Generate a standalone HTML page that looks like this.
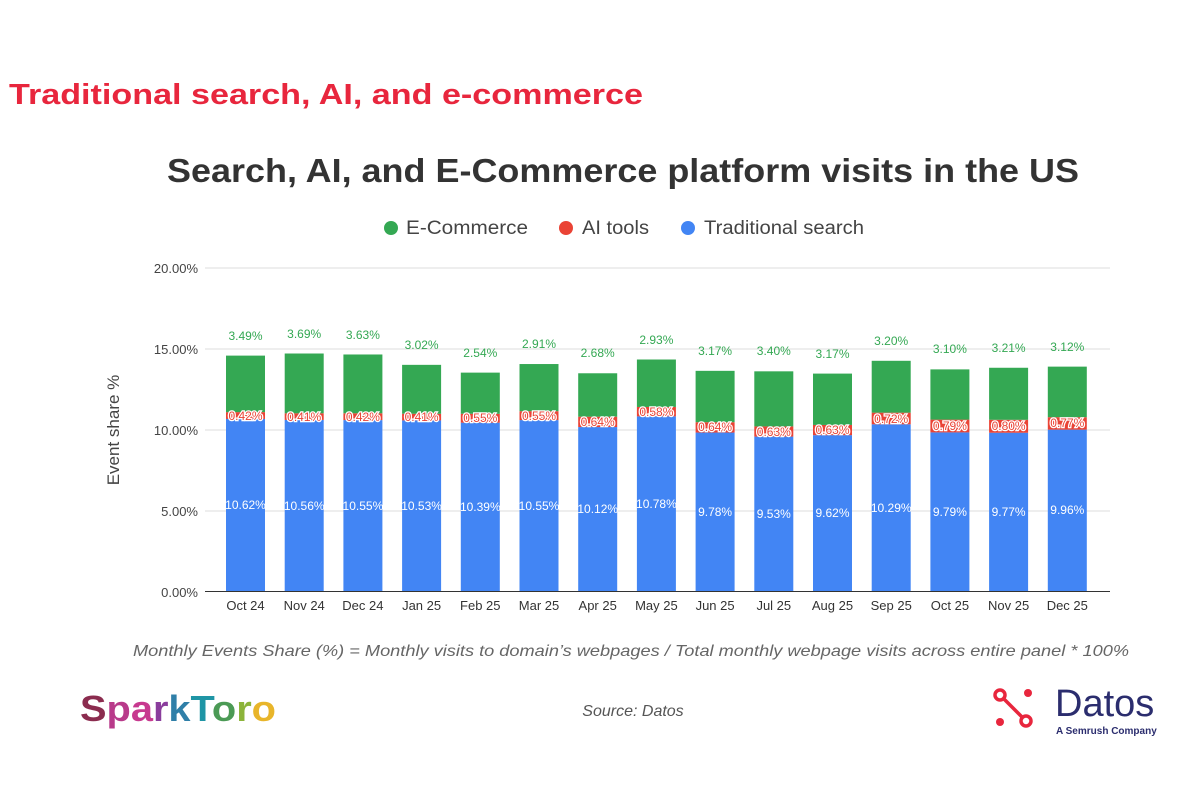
<!DOCTYPE html>
<html><head><meta charset="utf-8"><style>
html,body{margin:0;padding:0;background:#fff;}
svg{display:block;font-family:"Liberation Sans",sans-serif;}
</style></head><body>
<svg width="1200" height="800" viewBox="0 0 1200 800" xmlns="http://www.w3.org/2000/svg">
<text x="9" y="104" font-size="29" font-weight="bold" fill="#e8263d" textLength="634" lengthAdjust="spacingAndGlyphs">Traditional search, AI, and e-commerce</text>
<text x="167" y="182" font-size="33" font-weight="bold" fill="#333" textLength="912" lengthAdjust="spacingAndGlyphs">Search, AI, and E-Commerce platform visits in the US</text>
<g font-size="19" fill="#444">
<circle cx="391" cy="228" r="7" fill="#34a853"/><text x="406" y="234" textLength="122" lengthAdjust="spacingAndGlyphs">E-Commerce</text>
<circle cx="566" cy="228" r="7" fill="#ea4335"/><text x="582" y="234" textLength="67" lengthAdjust="spacingAndGlyphs">AI tools</text>
<circle cx="688" cy="228" r="7" fill="#4285f4"/><text x="704" y="234" textLength="160" lengthAdjust="spacingAndGlyphs">Traditional search</text>
</g>
<g stroke="#ddd" stroke-width="1">
<line x1="205" y1="268" x2="1110" y2="268"/><line x1="205" y1="349" x2="1110" y2="349"/><line x1="205" y1="430" x2="1110" y2="430"/><line x1="205" y1="511" x2="1110" y2="511"/>
</g>
<g font-size="13" fill="#444" text-anchor="end">
<text x="198" y="273">20.00%</text><text x="198" y="354">15.00%</text><text x="198" y="435">10.00%</text><text x="198" y="516">5.00%</text><text x="198" y="597">0.00%</text>
</g>
<text transform="translate(119,430) rotate(-90)" font-size="17" fill="#444" text-anchor="middle">Event share %</text>
<g>
<g transform="translate(245.5,591) scale(1,-16.2)"><rect x="-19.5" y="0" width="39" height="10.62" fill="#4285f4"/><rect x="-19.5" y="10.62" width="39" height="0.42" fill="#ea4335"/><rect x="-19.5" y="11.04" width="39" height="3.49" fill="#34a853"/></g>
<g transform="translate(304.2,591) scale(1,-16.2)"><rect x="-19.5" y="0" width="39" height="10.56" fill="#4285f4"/><rect x="-19.5" y="10.56" width="39" height="0.41" fill="#ea4335"/><rect x="-19.5" y="10.97" width="39" height="3.69" fill="#34a853"/></g>
<g transform="translate(362.9,591) scale(1,-16.2)"><rect x="-19.5" y="0" width="39" height="10.55" fill="#4285f4"/><rect x="-19.5" y="10.55" width="39" height="0.42" fill="#ea4335"/><rect x="-19.5" y="10.97" width="39" height="3.63" fill="#34a853"/></g>
<g transform="translate(421.6,591) scale(1,-16.2)"><rect x="-19.5" y="0" width="39" height="10.53" fill="#4285f4"/><rect x="-19.5" y="10.53" width="39" height="0.41" fill="#ea4335"/><rect x="-19.5" y="10.94" width="39" height="3.02" fill="#34a853"/></g>
<g transform="translate(480.3,591) scale(1,-16.2)"><rect x="-19.5" y="0" width="39" height="10.39" fill="#4285f4"/><rect x="-19.5" y="10.39" width="39" height="0.55" fill="#ea4335"/><rect x="-19.5" y="10.94" width="39" height="2.54" fill="#34a853"/></g>
<g transform="translate(539,591) scale(1,-16.2)"><rect x="-19.5" y="0" width="39" height="10.55" fill="#4285f4"/><rect x="-19.5" y="10.55" width="39" height="0.55" fill="#ea4335"/><rect x="-19.5" y="11.10" width="39" height="2.91" fill="#34a853"/></g>
<g transform="translate(597.7,591) scale(1,-16.2)"><rect x="-19.5" y="0" width="39" height="10.12" fill="#4285f4"/><rect x="-19.5" y="10.12" width="39" height="0.64" fill="#ea4335"/><rect x="-19.5" y="10.76" width="39" height="2.68" fill="#34a853"/></g>
<g transform="translate(656.4,591) scale(1,-16.2)"><rect x="-19.5" y="0" width="39" height="10.78" fill="#4285f4"/><rect x="-19.5" y="10.78" width="39" height="0.58" fill="#ea4335"/><rect x="-19.5" y="11.36" width="39" height="2.93" fill="#34a853"/></g>
<g transform="translate(715.1,591) scale(1,-16.2)"><rect x="-19.5" y="0" width="39" height="9.78" fill="#4285f4"/><rect x="-19.5" y="9.78" width="39" height="0.64" fill="#ea4335"/><rect x="-19.5" y="10.42" width="39" height="3.17" fill="#34a853"/></g>
<g transform="translate(773.8,591) scale(1,-16.2)"><rect x="-19.5" y="0" width="39" height="9.53" fill="#4285f4"/><rect x="-19.5" y="9.53" width="39" height="0.63" fill="#ea4335"/><rect x="-19.5" y="10.16" width="39" height="3.40" fill="#34a853"/></g>
<g transform="translate(832.5,591) scale(1,-16.2)"><rect x="-19.5" y="0" width="39" height="9.62" fill="#4285f4"/><rect x="-19.5" y="9.62" width="39" height="0.63" fill="#ea4335"/><rect x="-19.5" y="10.25" width="39" height="3.17" fill="#34a853"/></g>
<g transform="translate(891.2,591) scale(1,-16.2)"><rect x="-19.5" y="0" width="39" height="10.29" fill="#4285f4"/><rect x="-19.5" y="10.29" width="39" height="0.72" fill="#ea4335"/><rect x="-19.5" y="11.01" width="39" height="3.20" fill="#34a853"/></g>
<g transform="translate(949.9,591) scale(1,-16.2)"><rect x="-19.5" y="0" width="39" height="9.79" fill="#4285f4"/><rect x="-19.5" y="9.79" width="39" height="0.79" fill="#ea4335"/><rect x="-19.5" y="10.58" width="39" height="3.10" fill="#34a853"/></g>
<g transform="translate(1008.6,591) scale(1,-16.2)"><rect x="-19.5" y="0" width="39" height="9.77" fill="#4285f4"/><rect x="-19.5" y="9.77" width="39" height="0.80" fill="#ea4335"/><rect x="-19.5" y="10.57" width="39" height="3.21" fill="#34a853"/></g>
<g transform="translate(1067.3,591) scale(1,-16.2)"><rect x="-19.5" y="0" width="39" height="9.96" fill="#4285f4"/><rect x="-19.5" y="9.96" width="39" height="0.77" fill="#ea4335"/><rect x="-19.5" y="10.73" width="39" height="3.12" fill="#34a853"/></g>
</g>
<line x1="205" y1="591.5" x2="1110" y2="591.5" stroke="#333" stroke-width="1"/>
<g font-size="12" fill="#34a853" text-anchor="middle">
<text x="245.5" y="340">3.49%</text><text x="304.2" y="338">3.69%</text><text x="362.9" y="339">3.63%</text><text x="421.6" y="349">3.02%</text><text x="480.3" y="357">2.54%</text><text x="539" y="348">2.91%</text><text x="597.7" y="357">2.68%</text><text x="656.4" y="344">2.93%</text><text x="715.1" y="355">3.17%</text><text x="773.8" y="355">3.40%</text><text x="832.5" y="358">3.17%</text><text x="891.2" y="345">3.20%</text><text x="949.9" y="353">3.10%</text><text x="1008.6" y="352">3.21%</text><text x="1067.3" y="351">3.12%</text>
</g>
<g font-size="12" fill="#ea4335" stroke="#fff" stroke-width="2.5" paint-order="stroke" text-anchor="middle">
<text x="245.5" y="420">0.42%</text><text x="304.2" y="421">0.41%</text><text x="362.9" y="421">0.42%</text><text x="421.6" y="421">0.41%</text><text x="480.3" y="422">0.55%</text><text x="539" y="420">0.55%</text><text x="597.7" y="426">0.64%</text><text x="656.4" y="416">0.58%</text><text x="715.1" y="431">0.64%</text><text x="773.8" y="436">0.63%</text><text x="832.5" y="434">0.63%</text><text x="891.2" y="423">0.72%</text><text x="949.9" y="430">0.79%</text><text x="1008.6" y="430">0.80%</text><text x="1067.3" y="427">0.77%</text>
</g>
<g font-size="12" fill="#fff" text-anchor="middle">
<text x="245.5" y="509">10.62%</text><text x="304.2" y="510">10.56%</text><text x="362.9" y="510">10.55%</text><text x="421.6" y="510">10.53%</text><text x="480.3" y="511">10.39%</text><text x="539" y="510">10.55%</text><text x="597.7" y="513">10.12%</text><text x="656.4" y="508">10.78%</text><text x="715.1" y="516">9.78%</text><text x="773.8" y="518">9.53%</text><text x="832.5" y="517">9.62%</text><text x="891.2" y="512">10.29%</text><text x="949.9" y="516">9.79%</text><text x="1008.6" y="516">9.77%</text><text x="1067.3" y="514">9.96%</text>
</g>
<g font-size="13" fill="#333" text-anchor="middle">
<text x="245.5" y="610">Oct 24</text><text x="304.2" y="610">Nov 24</text><text x="362.9" y="610">Dec 24</text><text x="421.6" y="610">Jan 25</text><text x="480.3" y="610">Feb 25</text><text x="539" y="610">Mar 25</text><text x="597.7" y="610">Apr 25</text><text x="656.4" y="610">May 25</text><text x="715.1" y="610">Jun 25</text><text x="773.8" y="610">Jul 25</text><text x="832.5" y="610">Aug 25</text><text x="891.2" y="610">Sep 25</text><text x="949.9" y="610">Oct 25</text><text x="1008.6" y="610">Nov 25</text><text x="1067.3" y="610">Dec 25</text>
</g>
<text x="631" y="656" font-size="16" font-style="italic" fill="#666" text-anchor="middle" textLength="996" lengthAdjust="spacingAndGlyphs">Monthly Events Share (%) = Monthly visits to domain’s webpages / Total monthly webpage visits across entire panel * 100%</text>
<text x="633" y="716" font-size="16" font-style="italic" fill="#555" text-anchor="middle">Source: Datos</text>
<g font-size="36" font-weight="bold">
<text x="80" y="721" textLength="196" lengthAdjust="spacingAndGlyphs"><tspan fill="#8b2c4f">S</tspan><tspan fill="#b83a8a">p</tspan><tspan fill="#c7398f">a</tspan><tspan fill="#8a3d9c">r</tspan><tspan fill="#2f7fa8">k</tspan><tspan fill="#1f95a5">T</tspan><tspan fill="#4b9a55">o</tspan><tspan fill="#8cb43a">r</tspan><tspan fill="#e8b52a">o</tspan></text>
</g>
<g stroke="#e8263d" stroke-width="3.5" fill="none">
<circle cx="1000" cy="695" r="5"/><circle cx="1026" cy="721" r="5"/><line x1="1004" y1="699" x2="1022" y2="717"/>
</g>
<circle cx="1028" cy="693" r="4" fill="#e8263d"/><circle cx="1000" cy="722" r="4" fill="#e8263d"/>
<text x="1055" y="716" font-size="38" fill="#2b2d6e">Datos</text>
<text x="1056" y="734" font-size="10" font-weight="bold" fill="#2b2d6e">A Semrush Company</text>
</svg>
</body></html>
